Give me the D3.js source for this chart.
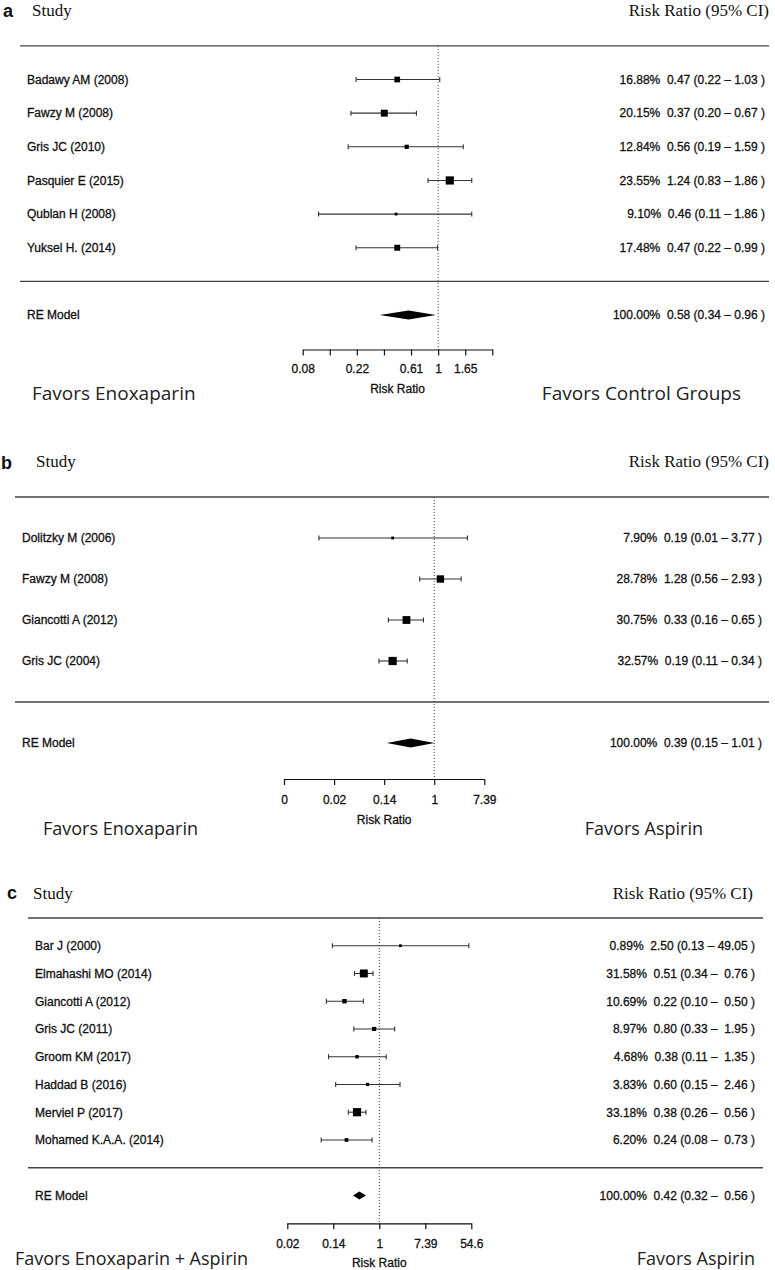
<!DOCTYPE html>
<html><head><meta charset="utf-8">
<script src="https://cdn.jsdelivr.net/npm/d3@7"></script>
<style>body{margin:0;background:#fff} svg text{white-space:pre}</style>
</head><body>
<svg id="chart" width="775" height="1270"></svg>
<script>
// ---------- Panel a : Enoxaparin vs control ----------
const studiesA = ["Badawy AM (2008)", "Fawzy M (2008)", "Gris JC (2010)", "Pasquier E (2015)", "Qublan H (2008)", "Yuksel H. (2014)"];
const weightsA = [16.88, 20.15, 12.84, 23.55, 9.10, 17.48];
const estA = [0.47, 0.37, 0.56, 1.24, 0.46, 0.47];
const lowerA = [0.22, 0.20, 0.19, 0.83, 0.11, 0.22];
const upperA = [1.03, 0.67, 1.59, 1.86, 1.86, 0.99];
const modelA = [0.58, 0.34, 0.96];
const ticksA = [-2.5, -2, -1.5, -1, -0.5, 0, 0.5, 1];
const tickLabelsA = ["0.08", "", "0.22", "", "0.61", "1", "1.65", ""];
const favorsA = ["Favors Enoxaparin", "Favors Control Groups"];

// ---------- Panel b : Enoxaparin vs aspirin ----------
const studiesB = ["Dolitzky M (2006)", "Fawzy M (2008)", "Giancotti A (2012)", "Gris JC (2004)"];
const weightsB = [7.90, 28.78, 30.75, 32.57];
const estB = [0.19, 1.28, 0.33, 0.19];
const lowerB = [0.01, 0.56, 0.16, 0.11];
const upperB = [3.77, 2.93, 0.65, 0.34];
const modelB = [0.39, 0.15, 1.01];
const ticksB = [-6, -4, -2, 0, 2];
const tickLabelsB = ["0", "0.02", "0.14", "1", "7.39"];
const favorsB = ["Favors Enoxaparin", "Favors Aspirin"];

// ---------- Panel c : Enoxaparin + aspirin vs aspirin ----------
const studiesC = ["Bar J (2000)", "Elmahashi MO (2014)", "Giancotti A (2012)", "Gris JC (2011)", "Groom KM (2017)", "Haddad B (2016)", "Merviel P (2017)", "Mohamed K.A.A. (2014)"];
const weightsC = [0.89, 31.58, 10.69, 8.97, 4.68, 3.83, 33.18, 6.20];
const estC = [2.50, 0.51, 0.22, 0.80, 0.38, 0.60, 0.38, 0.24];
const lowerC = [0.13, 0.34, 0.10, 0.33, 0.11, 0.15, 0.26, 0.08];
const upperC = [49.05, 0.76, 0.50, 1.95, 1.35, 2.46, 0.56, 0.73];
const modelC = [0.42, 0.32, 0.56];
const ticksC = [-4, -2, 0, 2, 4];
const tickLabelsC = ["0.02", "0.14", "1", "7.39", "54.6"];
const favorsC = ["Favors Enoxaparin + Aspirin", "Favors Aspirin"];

const panels = [
  {letter:"a", studies:studiesA, w:weightsA, est:estA, lo:lowerA, hi:upperA, model:modelA, ticks:ticksA, tickLabels:tickLabelsA, favors:favorsA, padUpper:false,
   layout:{xr:[302.7,492.3], y0:79.5, unit:33.65, axisY:349.5, tickPad:9, rrY:393, headY:16, letterX:3, letterY:17, studyHeadX:32, labelX:27,
     lineX:[20,769], headRight:769, annotRight:765, favY:400, favSize:19, favL:32, favR:741, diamondH:4.5}},
  {letter:"b", studies:studiesB, w:weightsB, est:estB, lo:lowerB, hi:upperB, model:modelB, ticks:ticksB, tickLabels:tickLabelsB, favors:favorsB, padUpper:false,
   layout:{xr:[284,484.3], y0:538, unit:41, axisY:779, tickPad:10, rrY:824, headY:467, letterX:1, letterY:469, studyHeadX:36, labelX:22,
     lineX:[15,769], headRight:769, annotRight:762, favY:835, favSize:18, favL:43, favR:703, diamondH:4.5}},
  {letter:"c", studies:studiesC, w:weightsC, est:estC, lo:lowerC, hi:upperC, model:modelC, ticks:ticksC, tickLabels:tickLabelsC, favors:favorsC, padUpper:true,
   layout:{xr:[287.3,471.3], y0:945.7, unit:27.75, axisY:1223.3, tickPad:10, rrY:1267, headY:899, letterX:7, letterY:899, studyHeadX:33, labelX:35,
     lineX:[28,763], headRight:753, annotRight:755, favY:1265, favSize:18, favL:15, favR:755, diamondH:4}}
];

const svg = d3.select("#chart");
const f2 = d3.format(".2f");
const sans = "'Liberation Sans', Arial, Helvetica, sans-serif";
const serif = "'Liberation Serif', 'Times New Roman', serif";
const favFont = "'Open Sans', 'Noto Sans', sans-serif";

function sansText(sel) {
  return sel.attr("font-family", sans).attr("font-size", 12).attr("fill", "#111")
    .attr("stroke", "#111").attr("stroke-width", 0.3);
}

panels.forEach(p => {
  const L = p.layout;
  const g = svg.append("g");
  const x = d3.scaleLinear().domain([p.ticks[0], p.ticks[p.ticks.length-1]]).range(L.xr);
  const n = p.studies.length;
  const y = d3.scaleLinear().domain([0, 1]).range([L.y0, L.y0 + L.unit]);
  const size = d3.scaleLinear().domain([d3.min(p.w), d3.max(p.w)]).range([2.8, 8.2]);

  // panel letter and headers
  g.append("text").attr("x", L.letterX).attr("y", L.letterY).text(p.letter)
    .attr("font-family", sans).attr("font-weight", "bold").attr("font-size", 18).attr("fill", "#111");
  g.append("text").attr("x", L.studyHeadX).attr("y", L.headY).text("Study")
    .attr("font-family", serif).attr("font-size", 17).attr("fill", "#111");
  g.append("text").attr("x", L.headRight).attr("y", L.headY).attr("text-anchor", "end").text("Risk Ratio (95% CI)")
    .attr("font-family", serif).attr("font-size", 17).attr("fill", "#111");

  // separator lines
  [y(-1), y(n)].forEach(yy => {
    g.append("line").attr("x1", L.lineX[0]).attr("x2", L.lineX[1]).attr("y1", yy).attr("y2", yy)
      .attr("stroke", "#444").attr("stroke-width", 1.4);
  });

  // reference line at RR = 1
  g.append("line").attr("x1", x(0)).attr("x2", x(0)).attr("y1", y(-1)).attr("y2", L.axisY)
    .attr("stroke", "#333").attr("stroke-width", 1).attr("stroke-dasharray", "1,2");

  // study rows
  p.studies.forEach((s, i) => {
    const yy = y(i);
    sansText(g.append("text").attr("x", L.labelX).attr("y", yy + 4.3).text(s));
    const x1 = x(Math.log(p.lo[i])), x2 = x(Math.log(p.hi[i]));
    g.append("line").attr("x1", x1).attr("x2", x2).attr("y1", yy).attr("y2", yy).attr("stroke", "#333").attr("stroke-width", 1.1);
    [x1, x2].forEach(xx => g.append("line").attr("x1", xx).attr("x2", xx).attr("y1", yy - 2.5).attr("y2", yy + 2.5)
      .attr("stroke", "#333").attr("stroke-width", 1.1));
    const sz = size(p.w[i]);
    g.append("rect").attr("x", x(Math.log(p.est[i])) - sz/2).attr("y", yy - sz/2).attr("width", sz).attr("height", sz).attr("fill", "#000");
    const hi = p.padUpper && p.hi[i] < 10 ? " " + f2(p.hi[i]) : f2(p.hi[i]);
    const ann = f2(p.w[i]) + "%  " + f2(p.est[i]) + " (" + f2(p.lo[i]) + " – " + hi + " )";
    sansText(g.append("text").attr("x", L.annotRight).attr("y", yy + 4.3).attr("text-anchor", "end").text(ann));
  });

  // RE model
  const yr = y(n + 1);
  sansText(g.append("text").attr("x", L.labelX).attr("y", yr + 4.3).text("RE Model"));
  const [m, mlo, mhi] = p.model;
  const dpts = [[x(Math.log(mlo)), yr], [x(Math.log(m)), yr - L.diamondH], [x(Math.log(mhi)), yr], [x(Math.log(m)), yr + L.diamondH]];
  g.append("path").attr("d", d3.line()(dpts) + "Z").attr("fill", "#000");
  const mhiS = p.padUpper && mhi < 10 ? " " + f2(mhi) : f2(mhi);
  sansText(g.append("text").attr("x", L.annotRight).attr("y", yr + 4.3).attr("text-anchor", "end")
    .text("100.00%  " + f2(m) + " (" + f2(mlo) + " – " + mhiS + " )"));

  // axis
  const axis = d3.axisBottom(x).tickValues(p.ticks).tickFormat((d, i) => p.tickLabels[i])
    .tickSize(6).tickSizeOuter(0).tickPadding(L.tickPad);
  const ag = g.append("g").attr("transform", `translate(0,${L.axisY})`).call(axis);
  ag.select(".domain").attr("stroke", "#111").attr("stroke-width", 1.2);
  ag.selectAll(".tick line").attr("stroke", "#111").attr("stroke-width", 1.2);
  sansText(ag.selectAll(".tick text"));
  sansText(g.append("text").attr("x", (L.xr[0] + L.xr[1]) / 2).attr("y", L.rrY).attr("text-anchor", "middle").text("Risk Ratio"));

  // favors labels
  g.append("text").attr("x", L.favL).attr("y", L.favY).text(p.favors[0])
    .attr("font-family", favFont).attr("font-size", L.favSize).attr("fill", "#222");
  g.append("text").attr("x", L.favR).attr("y", L.favY).attr("text-anchor", "end").text(p.favors[1])
    .attr("font-family", favFont).attr("font-size", L.favSize).attr("fill", "#222");
});
</script>
</body></html>
